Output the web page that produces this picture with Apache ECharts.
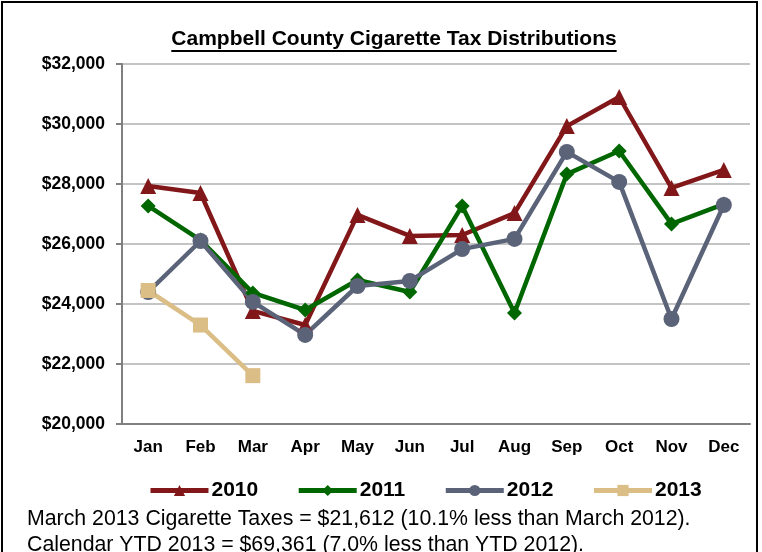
<!DOCTYPE html>
<html>
<head>
<meta charset="utf-8">
<script src="https://cdn.jsdelivr.net/npm/echarts@6/dist/echarts.min.js"></script>
<style>
  html, body { margin: 0; padding: 0; background: #fff; }
  #main { width: 762px; height: 552px; }
</style>
</head>
<body>
<div id="main"></div>
<script>
// 月份与各年数据
var months = ['Jan', 'Feb', 'Mar', 'Apr', 'May', 'Jun', 'Jul', 'Aug', 'Sep', 'Oct', 'Nov', 'Dec'];
var y2010 = [27930, 27700, 23770, 23300, 26970, 26270, 26300, 27030, 29930, 30900, 27870, 28470];
var y2011 = [27270, 26130, 24370, 23800, 24800, 24400, 27270, 23700, 28330, 29100, 26670, 27330];
var y2012 = [24400, 26100, 24070, 22970, 24600, 24770, 25830, 26170, 29070, 28070, 23500, 27300];
var y2013 = [24450, 23299, 21612];
var noteLines = [
    'March 2013 Cigarette Taxes = $21,612 (10.1% less than March 2012).',
    'Calendar YTD 2013 = $69,361 (7.0% less than YTD 2012).'
];
var titleText = 'Campbell County Cigarette Tax Distributions';

var myChart = echarts.init(document.getElementById('main'));

// 标题下划线宽度
var ctx = document.createElement('canvas').getContext('2d');
ctx.font = 'bold 21px "Liberation Sans", Arial';
var titleW = ctx.measureText(titleText).width;
var titleX = 394;

function line(name, data, color, symbol, size) {
    return {
        name: name,
        type: 'line',
        data: data,
        symbol: symbol,
        symbolSize: size,
        lineStyle: { width: 4.5, color: color },
        itemStyle: { color: color },
        z: 3
    };
}

var option = {
    animation: false,
    textStyle: { fontFamily: '"Liberation Sans", Arial' },
    grid: { left: 122, right: 12, top: 64, bottom: 128 },
    legend: {
        top: 475,
        left: 143,
        itemWidth: 58,
        itemHeight: 14,
        itemGap: 38,
        lineStyle: { width: 5 },
        textStyle: { fontSize: 21, fontWeight: 'bold', color: '#000', padding: [0, 0, 0, -2] },
        data: ['2010', '2011', '2012', '2013']
    },
    xAxis: {
        type: 'category',
        data: months,
        axisLine: { lineStyle: { color: '#808080', width: 2 } },
        axisTick: { length: 6, lineStyle: { color: '#808080', width: 2 } },
        axisLabel: { fontSize: 17, fontWeight: 'bold', color: '#000', margin: 15 }
    },
    yAxis: {
        type: 'value',
        min: 20000,
        max: 32000,
        interval: 2000,
        axisLine: { show: true, lineStyle: { color: '#808080', width: 2 } },
        axisTick: { show: true, length: 6, lineStyle: { color: '#808080', width: 2 } },
        splitLine: { lineStyle: { color: '#c4c4c4', width: 2 } },
        axisLabel: {
            fontSize: 17.5, fontWeight: 'bold', color: '#000', margin: 17,
            formatter: function (v) { return '$' + v.toLocaleString('en-US'); }
        }
    },
    graphic: [
        { type: 'rect', shape: { x: 2, y: 2, width: 755, height: 560 },
          style: { fill: 'none', stroke: '#000', lineWidth: 2 } },
        { type: 'text', x: titleX, y: 29,
          style: { text: titleText, font: 'bold 21px "Liberation Sans", Arial', fill: '#000', textAlign: 'center' } },
        { type: 'line', shape: { x1: titleX - titleW / 2, y1: 51, x2: titleX + titleW / 2, y2: 51 },
          style: { stroke: '#000', lineWidth: 2 } },
        { type: 'text', left: 27, top: 509,
          style: { text: noteLines[0], font: '21.3px "Liberation Sans", Arial', fill: '#000' } },
        { type: 'text', left: 27, top: 535,
          style: { text: noteLines[1], font: '21.3px "Liberation Sans", Arial', fill: '#000' } }
    ],
    series: [
        line('2010', y2010, '#821719', 'triangle', 16),
        line('2011', y2011, '#006600', 'diamond', 15),
        line('2012', y2012, '#5b6379', 'circle', 16),
        line('2013', y2013, '#dbbd86', 'rect', 15)
    ]
};

myChart.setOption(option);
</script>
</body>
</html>
